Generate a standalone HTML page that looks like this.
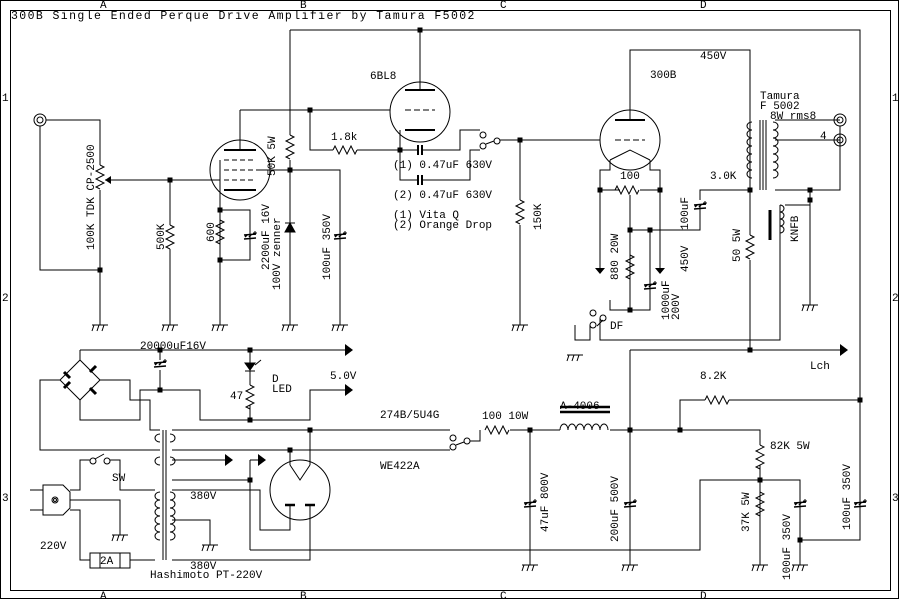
<!DOCTYPE html>
<html><head><meta charset="utf-8"><style>
html,body{margin:0;padding:0;background:#fff;width:900px;height:600px;overflow:hidden}
svg{display:block}
text{font-family:"Liberation Mono",monospace;font-size:11px;fill:#000}
</style></head><body>
<svg width="900" height="600" viewBox="0 0 900 600" xmlns="http://www.w3.org/2000/svg">
<defs>
<g id="g"><path d="M-8 0H8M-6 0l-2 6M-1 0l-2 6M4 0l-2 6" stroke="#000" fill="none"/></g>
<g id="rv"><path d="M0 0l4 2l-8 4l8 4l-8 4l8 4l-8 4l4 2" stroke="#000" fill="none"/></g>
<g id="rh"><path d="M0 0l2 -4l4 8l4 -8l4 8l4 -8l4 8l2 -4" stroke="#000" fill="none"/></g>
<g id="cv"><path d="M-6 -2l12 -1M-6 2l12 -1M-5 0l2 -2M-1 0l2 -2" stroke="#000" stroke-width="1.5" fill="none"/><path d="M5 -6v4M3 -4h4" stroke="#000"/></g>
<rect id="d" x="-2.5" y="-2.5" width="5" height="5" fill="#000"/>
<g id="ar"><path d="M0 -6L8 0L0 6Z" fill="#000"/></g>
</defs>
<g fill="none" stroke="#000" stroke-width="1">
<rect x="0.5" y="0.5" width="898" height="598"/>
<rect x="10.5" y="10.5" width="880" height="580"/>
<path d="M290 30H860V540H800"/>
<path d="M420 30V90"/>
<path d="M290 30V135M290 160V325M290 170H340V325"/>
<circle cx="420" cy="112" r="30"/>
<path d="M405 90H435M405 130H435" stroke-width="2"/>
<path d="M405 110H435" stroke-dasharray="6 3"/>
<path d="M240 110H390M310 110V150H333M357 150H400M400 130V180H418M400 150H418"/>
<path d="M418 145V155M422 145V155M418 175V185M422 175V185" stroke-width="2"/>
<path d="M422 150H460V130H480M422 180H470V150H480"/>
<circle cx="240" cy="170" r="30"/>
<path d="M224 150H256M224 190H256" stroke-width="2"/>
<path d="M224 160H256M224 170H256M224 180H256" stroke-dasharray="5 3"/>
<path d="M240 110V150M220 160V210M105 180H220M256 170H290"/>
<path d="M220 190V325M220 210H250V260H220"/>
<circle cx="40" cy="120" r="6"/><circle cx="40" cy="120" r="3"/>
<path d="M46 120H100V165M100 190V325M40 126V270H100"/>
<path d="M170 180V225M170 249V325"/>
<circle cx="483" cy="135" r="3"/><circle cx="483" cy="146" r="3"/><circle cx="497" cy="141" r="3"/>
<path d="M486 144L494 141M500 140H600M520 140V200M520 225V325"/>
<circle cx="630" cy="140" r="30"/>
<path d="M615 120H645" stroke-width="2"/>
<path d="M615 140H645" stroke-dasharray="6 3"/>
<path d="M630 120V50H750V120"/>
<path d="M610 160L630 150L650 160M610 160V170H600V268M650 160V170H660V268M600 190H620M640 190H660M630 195V310M630 230H700V205M700 200V190H750"/>
<path d="M650 230V310H610V300M630 290V310"/>
<circle cx="593" cy="313" r="3"/><circle cx="603" cy="318" r="3"/><circle cx="593" cy="325" r="3"/>
<path d="M590 325V340H575V325M597 326L603 320"/>
<path d="M600 318V340H780V235"/>
<path d="M750 120V190M760 120V190M775 120H840M775 140H840M775 190H840V126M810 190V305M763 120V190M766 120V190"/>
<path d="M750 190V235M750 260V350"/>
<circle cx="840" cy="120" r="6"/><circle cx="840" cy="120" r="3"/>
<circle cx="840" cy="140" r="6"/><circle cx="840" cy="140" r="3"/>
<path d="M770 210V240" stroke-width="3"/>
<path d="M785 205H810M780 205V235"/>
<path d="M630 350H840M630 350V565M530 430V565M510 430H560M610 430H760V445M760 465V540M680 430V400H705M729 400H860M760 480H800V540M800 540V565M760 480H700V550H250"/>
<path d="M760 515V565"/>
<path d="M560 407H610M560 412H610" stroke-width="2.5"/>
<circle cx="453" cy="438" r="3"/><circle cx="453" cy="447" r="3"/><circle cx="467" cy="441" r="3"/>
<path d="M456 445L464 442M470 441H480V430"/>
<path d="M80 350H345M80 350V360L100 380L80 400L60 380L80 360M80 400V420H140V390H200V420H310V390H345"/>
<path d="M160 350V360M160 370V390M250 350V385M250 405V420"/>
<path d="M60 380H40V450H160M100 380H130V400H150V430H160"/>
<path d="M163 430V560M166 430V560"/>
<path d="M172 430H450M172 450H450M172 460H225M172 480H250M250 460H258M250 460V550M290 450V465M310 430V465M172 490H260V530H290V505M172 560H310V505"/>
<path d="M172 520H210V545"/>
<circle cx="300" cy="490" r="30"/>
<path d="M285 505H295M305 505H315" stroke-width="2.5"/>
<path d="M290 465L300 480L310 465"/>
<path d="M70 490H80V460H90M110 460H120V490H155"/>
<circle cx="93" cy="461" r="3"/><circle cx="107" cy="461" r="3"/><path d="M95 459L104 454"/>
<path d="M43 490H30M43 510H30"/>
<path d="M43 485H63L70 492V508L63 515H43Z" />
<circle cx="55" cy="500" r="3"/><circle cx="55" cy="500" r="1.5"/>
<path d="M70 500H120V535M70 510H80V560H90M130 560H155"/>
<rect x="90" y="553" width="40" height="15"/>
<path d="M100 553V568M120 553V568"/>
</g>
<use href="#rv" x="100" y="165"/><use href="#rv" x="170" y="225"/><use href="#rv" x="220" y="220"/><use href="#rv" x="290" y="135"/>
<use href="#rv" x="520" y="200"/><use href="#rv" x="630" y="255"/><use href="#rv" x="750" y="235"/><use href="#rv" x="760" y="445"/><use href="#rv" x="760" y="492"/><use href="#rv" x="250" y="385"/>
<use href="#rh" x="333" y="150"/><use href="#rh" x="615" y="190"/><use href="#rh" x="705" y="400"/><use href="#rh" x="485" y="430"/>
<use href="#cv" x="250" y="237"/><use href="#cv" x="340" y="237"/><use href="#cv" x="700" y="207"/><use href="#cv" x="650" y="287"/>
<use href="#cv" x="530" y="505"/><use href="#cv" x="630" y="505"/><use href="#cv" x="800" y="505"/><use href="#cv" x="860" y="505"/><use href="#cv" x="160" y="365"/>
<use href="#g" x="100" y="325"/><use href="#g" x="170" y="325"/><use href="#g" x="220" y="325"/><use href="#g" x="290" y="325"/><use href="#g" x="340" y="325"/><use href="#g" x="520" y="325"/><use href="#g" x="810" y="305"/><use href="#g" x="575" y="355"/>
<use href="#g" x="530" y="565"/><use href="#g" x="630" y="565"/><use href="#g" x="760" y="565"/><use href="#g" x="800" y="565"/><use href="#g" x="120" y="535"/><use href="#g" x="210" y="545"/>
<use href="#d" x="420" y="30"/><use href="#d" x="310" y="110"/><use href="#d" x="400" y="150"/><use href="#d" x="290" y="170"/><use href="#d" x="170" y="180"/><use href="#d" x="220" y="210"/><use href="#d" x="220" y="260"/><use href="#d" x="100" y="270"/>
<use href="#d" x="520" y="140"/><use href="#d" x="600" y="190"/><use href="#d" x="660" y="190"/><use href="#d" x="630" y="230"/><use href="#d" x="650" y="230"/><use href="#d" x="630" y="310"/><use href="#d" x="750" y="190"/><use href="#d" x="810" y="190"/><use href="#d" x="810" y="200"/>
<use href="#d" x="750" y="350"/><use href="#d" x="860" y="400"/><use href="#d" x="530" y="430"/><use href="#d" x="630" y="430"/><use href="#d" x="680" y="430"/><use href="#d" x="760" y="480"/><use href="#d" x="800" y="540"/>
<use href="#d" x="160" y="350"/><use href="#d" x="250" y="350"/><use href="#d" x="160" y="390"/><use href="#d" x="250" y="420"/><use href="#d" x="310" y="430"/><use href="#d" x="290" y="450"/><use href="#d" x="250" y="480"/>
<use href="#ar" x="345" y="350"/><use href="#ar" x="345" y="390"/><use href="#ar" x="840" y="350"/><use href="#ar" x="225" y="460"/><use href="#ar" x="258" y="460"/>
<path d="M595 268h10l-5 6zM655 268h10l-5 6z" fill="#000"/>
<path d="M105 180l6 -4v8z" fill="#000"/>
<g fill="none" stroke="#000">
<path d="M752 122a5 4 0 0 0 0 8a5 4 0 0 0 0 8a5 4 0 0 0 0 8a5 4 0 0 0 0 8a5 4 0 0 0 0 8a5 4 0 0 0 0 8a5 4 0 0 0 0 8"/>
<path d="M773 122a5 4 0 0 1 0 8a5 4 0 0 1 0 8a5 4 0 0 1 0 8a5 4 0 0 1 0 8a5 4 0 0 1 0 8a5 4 0 0 1 0 8a5 4 0 0 1 0 8"/>
<path d="M780 205a4 3.5 0 0 1 0 7a4 3.5 0 0 1 0 7a4 3.5 0 0 1 0 7a4 3.5 0 0 1 0 7"/>
<path d="M560 430a4 6 0 0 1 8 0a4 6 0 0 1 8 0a4 6 0 0 1 8 0a4 6 0 0 1 8 0a4 6 0 0 1 8 0a4 6 0 0 1 8 0"/>
<path d="M160 434a5 4 0 0 0 0 8M160 457a5 4 0 0 0 0 8M160 492a5 4 0 0 0 0 8a5 4 0 0 0 0 8a5 4 0 0 0 0 8a5 4 0 0 0 0 8a5 4 0 0 0 0 8a5 4 0 0 0 0 8"/>
<path d="M170 434a5 4 0 0 1 0 8M170 457a5 4 0 0 1 0 8M170 492a5 4 0 0 1 0 8a5 4 0 0 1 0 8a5 4 0 0 1 0 8a5 4 0 0 1 0 8a5 4 0 0 1 0 8a5 4 0 0 1 0 8"/>
<path d="M290 223l5 9h-10z" fill="#000"/>
<path d="M285 223h10"/>
<path d="M245 363h10l-5 7z" fill="#000"/><path d="M245 371h10M255 365l6 -5"/>
<path d="M64 372l6 6M90 372l6 -6M64 388l6 -6M90 388l6 6" stroke-width="3"/>
</g>
<text x="11" y="19" style="letter-spacing:1.4px;font-size:11.5px">300B Single Ended Perque Drive Amplifier by Tamura F5002</text>
<text x="100" y="8">A</text><text x="300" y="8">B</text><text x="500" y="8">C</text><text x="700" y="8">D</text>
<text x="100" y="599">A</text><text x="300" y="599">B</text><text x="500" y="599">C</text><text x="700" y="599">D</text>
<text x="2" y="101">1</text><text x="2" y="301">2</text><text x="2" y="501">3</text>
<text x="892" y="101">1</text><text x="892" y="301">2</text><text x="892" y="501">3</text>
<text x="370" y="79">6BL8</text><text x="331" y="140">1.8k</text>
<text x="393" y="168">(1) 0.47uF 630V</text><text x="393" y="198">(2) 0.47uF 630V</text>
<text x="393" y="218">(1) Vita Q</text><text x="393" y="228">(2) Orange Drop</text>
<text x="650" y="78">300B</text><text x="700" y="59">450V</text>
<text x="760" y="99">Tamura</text><text x="760" y="109">F 5002</text><text x="770" y="119">8W rms8</text><text x="820" y="139">4</text>
<text x="620" y="179">100</text><text x="710" y="179">3.0K</text><text x="610" y="329">DF</text>
<text x="140" y="349">20000uF16V</text><text x="272" y="382">D</text><text x="272" y="392">LED</text><text x="230" y="399">47</text><text x="330" y="379">5.0V</text>
<text x="810" y="369">Lch</text><text x="700" y="379">8.2K</text><text x="770" y="449">82K 5W</text>
<text x="380" y="418">274B/5U4G</text><text x="380" y="469">WE422A</text><text x="482" y="419">100 10W</text><text x="560" y="409">A-4006</text>
<text x="190" y="499">380V</text><text x="190" y="569">380V</text><text x="150" y="578">Hashimoto PT-220V</text><text x="40" y="549">220V</text><text x="112" y="481">SW</text><text x="100" y="564">2A</text>
<g>
<text transform="translate(94,250) rotate(-90)">100K TDK CP-2500</text>
<text transform="translate(164,250) rotate(-90)">500K</text>
<text transform="translate(214,242) rotate(-90)">600</text>
<text transform="translate(275,176) rotate(-90)">50K 5W</text>
<text transform="translate(269,270) rotate(-90)">2200uF 16V</text>
<text transform="translate(280,290) rotate(-90)">100V zenner</text>
<text transform="translate(330,280) rotate(-90)">100uF 350V</text>
<text transform="translate(541,230) rotate(-90)">150K</text>
<text transform="translate(618,280) rotate(-90)">880 20W</text>
<text transform="translate(669,320) rotate(-90)">1000uF</text>
<text transform="translate(679,320) rotate(-90)">200V</text>
<text transform="translate(688,230) rotate(-90)">100uF</text>
<text transform="translate(688,272) rotate(-90)">450V</text>
<text transform="translate(740,262) rotate(-90)">50 5W</text>
<text transform="translate(798,242) rotate(-90)">KNFB</text>
<text transform="translate(548,532) rotate(-90)">47uF 800V</text>
<text transform="translate(618,542) rotate(-90)">200uF 500V</text>
<text transform="translate(749,532) rotate(-90)">37K 5W</text>
<text transform="translate(790,580) rotate(-90)">100uF 350V</text>
<text transform="translate(850,530) rotate(-90)">100uF 350V</text>
</g>
</svg>
</body></html>
